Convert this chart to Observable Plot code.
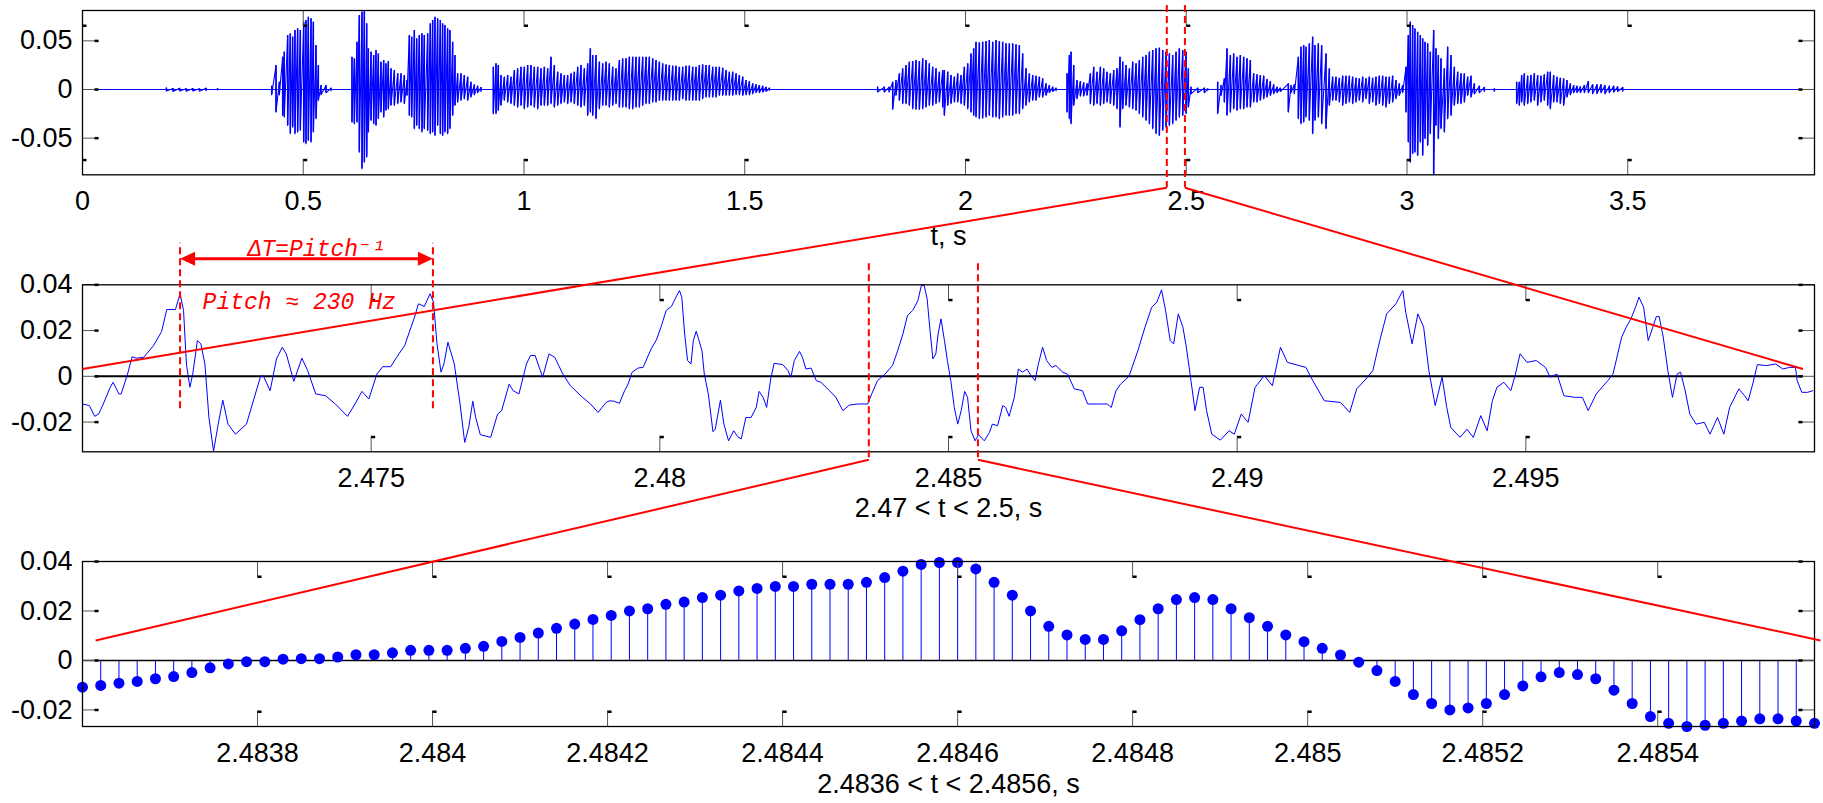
<!DOCTYPE html>
<html><head><meta charset="utf-8">
<script src="https://cdn.jsdelivr.net/npm/d3@7"></script>
<script src="https://cdn.jsdelivr.net/npm/@observablehq/plot@0.6"></script>
<style>
html,body{margin:0;padding:0;background:#fff;overflow:hidden;}
#wrap{position:relative;width:1823px;height:803px;overflow:hidden;background:#fff;}
#wrap svg{position:absolute;left:0;top:0;}
</style></head><body><div id="wrap"></div>
<script>
// ---------------- DATA ----------------
// Panel 1: whole utterance, envelope strokes (t in s, hi/lo in 1e-3)
const env1T = [0.19,0.205,0.22,0.235,0.25,0.265,0.28,0.306,
0.4285,0.4383,0.4458,0.4534,0.457,0.4647,0.4707,0.476,0.4813,0.4873,0.4934,0.501,0.5062,0.5115,0.5176,0.5229,0.5289,0.5342,0.5403,0.5516,0.563,
0.6104,0.6157,0.6217,0.627,0.6331,0.6384,0.6437,0.6474,0.6535,0.6595,0.6648,0.6701,0.6761,0.6822,0.6874,0.6927,0.6988,0.7063,0.7139,0.7214,0.729,0.735,0.7403,0.7456,0.7516,0.7569,0.7629,0.7689,0.7742,0.7818,0.7878,0.7931,0.7984,0.8044,0.8105,0.8157,0.821,0.827,0.8323,0.8384,0.8437,0.8497,0.8573,0.8648,0.8724,0.8799,0.8875,0.895,0.9026,
0.9305,0.9366,0.9418,0.9479,0.9554,0.963,0.9705,0.9781,0.9856,0.9932,1.0007,1.0083,1.0158,1.0234,1.031,1.0385,1.0461,1.0536,1.0612,1.0687,1.0763,1.0838,1.0914,1.0989,1.1065,1.114,1.1216,1.1291,1.1367,1.1442,1.1503,1.1556,1.1631,1.1707,1.1782,1.1858,1.1933,1.2009,1.2084,1.216,1.2235,1.2311,1.2386,1.2462,1.2537,1.2613,1.2688,1.2764,1.2839,1.2915,1.299,1.3066,1.3141,1.3217,1.3292,1.3368,1.3443,1.3519,1.3594,1.367,1.3745,1.3821,1.3896,1.3972,1.4047,1.4123,1.4198,1.4274,1.435,1.4425,1.4501,1.4576,1.4652,1.4727,1.4803,1.4878,1.4954,1.5029,1.5105,1.518,1.5256,1.5331,1.5407,1.5482,1.5558,
1.801,1.816,1.827,1.8351,1.8426,1.8502,1.8577,1.8653,1.8728,1.8804,1.8879,1.8955,1.903,1.9106,1.9181,1.9257,1.9332,1.9408,1.9483,1.9521,1.9597,1.9672,1.9748,1.9823,1.9899,1.9974,2.005,2.0125,2.0185,2.0238,2.0314,2.0389,2.0465,2.054,2.0616,2.0691,2.0767,2.0842,2.0918,2.0993,2.1069,2.1144,2.122,2.1295,2.1371,2.1446,2.1522,2.1597,2.1673,2.1748,2.1824,2.1899,2.1975,2.205,
2.23,2.2353,2.2391,2.2451,2.2526,2.2602,2.2677,2.2753,2.2828,2.2904,2.2979,2.3055,2.313,2.3206,2.3281,2.3357,2.3432,2.35,2.3561,2.3636,2.3712,2.3787,2.3863,2.3938,2.4014,2.4089,2.4165,2.424,2.4316,2.4391,2.4467,2.4542,2.4618,2.4693,2.4769,2.4844,2.492,2.4995,2.5048,2.5108,2.5259,2.541,2.5486,
2.5712,2.5788,2.5863,2.5923,2.5999,2.6074,2.615,2.6225,2.6301,2.6376,2.6452,2.6527,2.6603,2.6678,2.6754,2.6829,2.6905,2.698,2.7056,2.7131,
2.7312,2.7373,2.7448,2.7539,2.7599,2.766,2.7712,2.7788,2.7863,2.7916,2.7992,2.8067,2.8165,2.8241,2.8316,2.8392,2.8467,2.8543,2.8618,2.8694,2.8769,2.8845,2.892,2.8996,2.9071,2.9147,2.9222,2.9298,2.9373,2.9449,2.9524,2.96,2.9675,2.9751,2.9826,2.9902,2.9977,3.003,3.0075,3.0128,3.018,3.0241,3.0302,3.0355,3.0408,3.0468,3.0528,3.0604,3.0657,3.071,3.077,3.0846,3.0921,3.0997,3.1072,3.1148,3.1223,3.1299,3.1374,3.145,3.1525,3.1638,3.1752,3.1979,
3.2484,3.2544,3.2597,3.2657,3.2733,3.2808,3.2884,3.2959,3.3035,3.311,3.3186,3.3246,3.3322,3.3397,3.3473,3.3548,3.3624,3.37,3.3775,3.3851,3.3926,3.4017,3.4107,3.4205,3.4303,3.4394,3.4484,3.4583,3.4681,3.4771,3.4885];
const env1Hi = [1.5,1.0,1.2,0.8,1.0,0.7,1.2,1.0,
3.4,24.7,7.5,33.2,38.4,55.5,57.2,53.8,60.6,62.3,60.6,69.2,70.9,74.3,72.6,69.2,45.2,24.7,4.1,4.1,1.4,
33.2,31.5,48.6,76.0,79.5,81.2,67.5,41.8,38.4,34.9,40.1,36.6,28.1,29.8,26.4,28.8,21.2,19.5,16.1,16.1,14.4,9.2,55.5,53.8,60.6,52.1,55.5,57.2,55.5,57.2,67.5,70.9,74.3,72.6,70.9,67.5,65.8,62.3,60.6,48.6,34.9,16.1,16.1,14.4,12.7,7.5,4.8,3.4,2.1,
22.9,26.4,24.7,14.4,12.7,14.4,12.7,19.5,21.2,22.9,22.9,24.7,24.7,22.9,22.9,21.2,22.9,21.2,33.2,24.7,17.8,16.1,14.4,14.4,16.1,17.8,22.9,24.7,21.2,26.4,41.8,34.9,34.9,28.1,26.4,28.1,26.4,22.9,21.2,29.8,31.5,31.5,33.2,33.2,33.2,33.2,33.2,33.2,33.2,31.5,29.8,28.1,26.4,25.3,24.7,24.0,24.0,22.9,22.9,24.0,24.0,22.9,22.9,24.7,25.3,24.7,24.7,22.9,22.9,22.9,21.9,19.5,17.8,17.8,16.1,14.4,12.7,9.2,8.2,5.8,4.8,4.1,3.4,2.4,1.4,
2.4,2.4,2.4,7.5,9.2,16.1,21.2,24.7,28.1,28.8,29.8,28.8,31.5,29.8,26.4,22.9,21.2,17.8,19.5,19.5,17.8,14.4,12.7,16.1,14.4,22.9,26.4,36.6,41.8,48.6,47.9,48.6,49.3,50.3,48.6,50.3,49.3,48.6,46.9,46.9,46.9,45.9,45.2,36.6,21.2,16.1,14.4,13.7,12.7,11.0,5.8,4.1,2.4,1.4,
16.1,34.9,38.4,24.7,9.2,8.2,6.8,5.8,16.1,22.9,17.8,22.9,21.2,17.8,16.1,19.5,21.2,33.2,28.1,24.7,21.2,28.1,26.4,29.8,33.2,34.9,38.4,40.1,41.8,42.5,40.1,38.4,36.6,34.9,38.4,41.8,40.1,38.4,21.2,2.4,1.4,1.4,0.7,
7.5,4.1,11.0,41.8,34.9,36.6,33.2,34.9,33.2,31.5,29.8,16.1,15.1,14.4,13.7,10.3,8.2,4.8,2.4,1.4,
5.8,4.1,4.8,33.2,43.5,45.2,43.5,46.9,53.8,45.2,46.9,45.2,36.6,21.2,12.7,12.7,11.6,13.7,13.7,13.7,12.7,11.6,11.0,12.7,11.0,12.7,11.6,12.7,13.7,13.7,12.7,12.7,13.7,9.2,5.8,4.1,22.9,55.5,69.2,65.8,62.3,58.9,55.5,52.1,48.6,46.9,38.4,60.6,41.8,34.9,31.5,21.2,43.5,34.9,22.9,17.8,16.1,16.1,12.7,13.7,5.8,3.4,2.1,0.7,
7.5,7.5,14.4,16.1,13.7,14.4,16.1,14.4,13.7,15.1,17.8,17.8,14.4,12.7,11.6,11.0,9.2,5.8,4.1,3.4,2.7,4.1,8.2,4.8,4.8,4.8,4.1,3.4,3.4,2.7,2.1];
const env1Lo = [-1.5,-2.0,-1.5,-1.8,-1.5,-1.7,-1.2,-0.5,
-5.5,-23.3,-5.5,-26.7,-28.4,-37.0,-45.5,-38.7,-45.5,-43.8,-42.0,-54.1,-55.8,-52.4,-54.1,-43.8,-30.1,-11.3,-5.5,-3.4,-1.4,
-33.6,-35.3,-33.6,-64.4,-81.5,-74.7,-69.5,-43.8,-31.8,-35.3,-37.0,-30.1,-23.3,-28.4,-21.6,-19.9,-16.4,-16.4,-14.7,-13.0,-14.7,-6.2,-26.7,-28.4,-40.4,-37.0,-40.4,-43.8,-40.4,-42.1,-45.5,-43.8,-47.3,-37.0,-45.5,-47.3,-43.8,-45.5,-40.4,-26.7,-16.4,-13.0,-11.3,-9.6,-11.3,-7.9,-5.5,-3.4,-2.1,
-25.0,-25.0,-21.6,-16.4,-11.3,-13.0,-14.7,-16.4,-18.2,-16.4,-19.9,-18.2,-16.4,-18.2,-19.9,-16.4,-16.4,-16.4,-14.7,-18.2,-16.4,-14.7,-13.0,-14.7,-13.0,-14.7,-16.4,-18.2,-16.4,-26.7,-23.3,-26.7,-30.1,-19.9,-16.4,-16.4,-18.2,-16.4,-14.7,-18.2,-18.2,-18.2,-19.9,-19.9,-18.2,-18.2,-16.4,-14.7,-14.7,-13.0,-13.0,-11.3,-11.3,-11.3,-11.3,-11.3,-11.3,-11.3,-9.6,-11.3,-11.3,-11.3,-11.3,-11.3,-9.6,-7.9,-7.9,-7.9,-7.9,-6.2,-6.2,-6.2,-6.2,-6.2,-5.5,-5.5,-6.2,-5.5,-5.5,-4.5,-3.4,-3.4,-2.7,-2.1,-1.0,
-2.7,-2.7,-2.7,-20.5,-6.2,-11.3,-14.7,-14.7,-16.4,-19.9,-20.5,-20.5,-19.9,-18.2,-16.4,-16.4,-14.7,-13.0,-18.2,-26.7,-16.4,-14.7,-13.0,-13.0,-14.7,-16.4,-19.9,-23.3,-26.7,-28.4,-30.1,-29.5,-28.4,-26.7,-28.4,-28.4,-30.1,-28.4,-26.7,-26.7,-26.7,-25.0,-25.0,-19.9,-16.4,-13.0,-11.3,-11.3,-7.9,-7.9,-6.2,-3.4,-2.1,-1.4,
-23.3,-30.1,-35.3,-16.4,-9.6,-6.8,-6.8,-6.2,-14.7,-16.4,-14.7,-16.4,-14.7,-13.0,-14.7,-16.4,-19.9,-38.7,-19.9,-16.4,-18.2,-19.9,-21.6,-25.0,-28.4,-31.8,-35.3,-40.4,-45.5,-47.3,-42.1,-38.7,-37.0,-35.3,-31.8,-28.4,-26.7,-25.0,-18.2,-4.5,-3.4,-3.4,-0.7,
-25.0,-6.2,-13.0,-26.7,-23.3,-19.9,-21.6,-19.9,-19.9,-18.2,-18.2,-13.0,-13.0,-11.3,-9.6,-7.9,-6.2,-4.5,-3.4,-2.1,
-23.3,-3.4,-4.5,-30.1,-35.3,-33.6,-28.4,-31.8,-45.5,-31.8,-28.4,-35.3,-40.4,-16.4,-11.3,-11.3,-13.0,-16.4,-14.7,-13.0,-14.7,-13.0,-11.3,-13.0,-9.6,-14.7,-13.0,-16.4,-14.7,-16.4,-18.2,-14.7,-13.0,-9.6,-6.2,-3.4,-23.3,-54.1,-74.7,-66.1,-64.4,-67.8,-54.1,-67.8,-50.7,-57.5,-45.5,-87.6,-37.0,-50.7,-40.4,-43.8,-30.1,-26.7,-16.4,-14.7,-14.7,-13.0,-6.2,-7.9,-4.5,-3.4,-2.1,-2.1,
-14.7,-16.4,-13.0,-16.4,-14.7,-13.0,-11.3,-16.4,-13.0,-11.3,-16.4,-19.9,-13.0,-13.0,-14.7,-16.4,-7.9,-5.5,-3.4,-3.4,-3.4,-3.4,-3.4,-4.5,-4.5,-3.4,-4.5,-3.4,-2.7,-2.1,-2.1];
const x1Domain = [0, 3.923];
const y1Domain = [-0.0877, 0.0812];
const x1Ticks = [0, 0.5, 1, 1.5, 2, 2.5, 3, 3.5];
const x1Labels = ["0", "0.5", "1", "1.5", "2", "2.5", "3", "3.5"];
const y1Ticks = [-0.05, 0, 0.05];
const y1Labels = ["-0.05", "0", "0.05"];
const x1Title = "t, s";
const zoomMarks1 = [2.456, 2.497];

// Panel 2: 2.47 < t < 2.5 (time offset in ms from t2Start, value in 1e-3)
const t2Start = 2.47;
const t2Ms = [0.0,0.12,0.21,0.28,0.36,0.48,0.53,0.63,0.67,0.78,0.86,0.93,1.06,1.23,1.37,1.46,1.61,1.69,1.75,1.80,1.86,1.91,1.99,2.05,2.12,2.19,2.27,2.35,2.43,2.52,2.65,2.84,3.08,3.13,3.25,3.36,3.46,3.53,3.66,3.80,3.90,4.04,4.21,4.38,4.59,4.72,4.84,4.96,5.10,5.20,5.34,5.44,5.58,5.75,5.82,5.92,6.02,6.08,6.14,6.21,6.26,6.33,6.44,6.54,6.62,6.69,6.76,6.81,6.89,7.07,7.19,7.26,7.39,7.46,7.56,7.69,7.76,7.84,7.97,8.08,8.18,8.32,8.45,8.66,8.80,8.93,
9.07,9.13,9.21,9.30,9.39,9.45,9.52,9.62,9.71,9.85,9.94,10.02,10.11,10.20,10.28,10.34,10.38,10.43,10.48,10.54,10.58,10.63,10.67,10.73,10.77,10.84,10.92,10.96,11.05,11.11,11.19,11.28,11.35,11.41,11.49,11.58,11.67,11.72,11.79,11.85,11.92,11.98,12.13,12.22,12.27,12.33,12.42,12.47,12.53,12.62,12.71,12.79,12.94,13.05,13.17,13.28,13.43,13.60,13.67,13.77,13.89,14.03,14.12,14.21,14.29,14.38,14.47,14.53,14.58,14.63,14.68,14.73,14.78,14.82,14.87,14.93,14.98,15.04,15.10,15.16,15.22,15.28,15.33,15.39,15.46,15.52,15.62,15.71,15.76,15.85,15.94,15.99,16.05,16.14,16.21,16.28,16.36,16.43,16.50,16.55,16.63,16.70,16.79,16.86,16.98,17.06,17.18,17.32,17.41,17.58,17.75,17.82,17.90,17.98,
18.08,18.13,18.28,18.40,18.52,18.61,18.69,18.76,18.84,18.90,18.98,19.06,19.12,19.20,19.27,19.35,19.41,19.47,19.56,19.71,19.86,19.95,20.07,20.19,20.31,20.47,20.61,20.75,20.87,21.07,21.19,21.31,21.51,21.79,21.95,22.07,22.23,22.35,22.47,22.59,22.75,22.87,22.92,23.03,23.13,23.23,23.32,23.43,23.55,23.63,23.70,23.86,23.98,24.09,24.22,24.33,24.42,24.50,24.62,24.74,24.82,24.90,25.02,25.18,25.34,25.42,25.54,25.66,25.86,25.98,26.08,26.22,26.42,26.51,26.66,26.74,26.82,26.90,26.96,27.04,27.12,27.20,27.26,27.31,27.38,27.46,27.54,27.62,27.68,27.76,27.84,27.95,28.09,28.19,28.32,28.43,28.53,28.69,28.79,28.85,28.93,29.01,29.17,29.33,29.45,29.57,29.67,29.70,29.78,29.88,29.97];
const v2 = [-12.1,-12.8,-17.5,-16.5,-12.1,-4.8,-2.6,-7.7,-7.7,1.0,8.6,7.9,8.3,13.4,19.6,29.2,29.2,36.1,28.8,5.4,-4.8,1.0,15.6,14.2,5.4,-18.0,-32.8,-20.9,-10.4,-20.9,-25.3,-20.9,-0.4,0.3,-6.3,7.6,12.7,9.8,-2.2,7.9,2.5,-7.7,-8.5,-12.1,-17.5,-12.1,-6.6,-9.9,1.0,4.2,4.2,8.3,13.4,25.8,31.7,30.5,36.1,32.4,14.2,1.8,5.4,14.9,5.4,-12.1,-28.9,-22.3,-10.9,-18.0,-25.5,-26.7,-16.5,-15.0,-3.4,-6.3,-7.7,5.4,9.1,9.1,-0.4,9.8,8.3,1.0,-4.1,-9.2,-12.1,-15.8,
-11.4,-10.7,-10.9,-11.8,-6.3,-3.4,1.8,3.6,3.9,12.0,15.9,21.5,28.8,30.5,34.6,37.5,34.6,18.5,6.9,5.4,15.6,19.7,16.4,11.2,1.0,-7.7,-24.2,-23.1,-10.4,-20.9,-28.2,-23.8,-26.4,-27.4,-18.0,-18.0,-13.6,-6.6,-9.2,-13.6,-1.2,5.7,5.1,2.5,-0.4,6.9,10.9,8.3,3.2,3.6,-1.9,-2.6,-6.3,-9.2,-15.0,-12.6,-12.1,-12.1,-7.7,-1.9,0.7,4.7,11.2,18.5,26.6,28.8,33.1,39.7,39.7,33.9,20.0,7.6,9.8,18.5,25.1,15.6,6.9,-1.9,-13.6,-20.9,-15.0,-6.6,-9.2,-23.8,-28.2,-25.5,-28.2,-24.5,-20.9,-21.6,-12.8,-13.6,-17.5,-9.2,3.2,1.8,3.2,0.3,-1.9,4.7,12.7,6.9,3.9,4.7,1.8,1.0,-5.5,-6.3,-12.1,-12.1,-12.1,-13.6,-6.3,-3.4,
-1.2,0.3,11.2,21.2,30.2,32.4,37.8,28.8,15.6,14.2,27.3,21.5,12.7,-1.9,-15.0,-4.8,-4.8,-15.0,-25.3,-27.9,-23.8,-25.3,-16.5,-20.1,-4.8,0.3,-4.1,12.7,6.1,4.7,3.9,-1.9,-10.7,-11.4,-15.8,-5.5,-1.2,2.5,15.6,27.3,31.7,37.5,28.0,14.2,27.3,21.5,2.5,-12.8,-0.4,-13.6,-22.3,-26.7,-23.1,-26.7,-17.2,-23.8,-10.7,-4.8,-2.6,-6.3,1.0,9.8,6.1,6.9,3.9,-0.4,1.0,-8.5,-9.2,-9.2,-15.0,-7.7,-1.9,1.0,17.1,21.5,25.1,30.2,34.6,30.2,15.6,21.5,26.1,26.1,17.1,2.5,-9.2,1.0,1.8,-6.3,-16.5,-20.9,-20.1,-25.3,-18.0,-25.3,-13.6,-5.5,-8.5,-10.7,-3.4,5.1,4.7,5.4,3.2,3.9,3.9,-1.9,-7.0,-7.0,-6.3];
const x2Domain = [2.47, 2.5];
const y2Domain = [-0.033, 0.04];
const x2Ticks = [2.475, 2.48, 2.485, 2.49, 2.495];
const x2Labels = ["2.475", "2.48", "2.485", "2.49", "2.495"];
const y2Ticks = [-0.02, 0, 0.02, 0.04];
const y2Labels = ["-0.02", "0", "0.02", "0.04"];
const x2Title = "2.47 < t < 2.5, s";
const zoomMarks2 = [2.48362, 2.48551];
const pitchMarks = [2.47169, 2.47607];
const pitchSpan = [-0.0142, 0.0582];
const pitchArrowY = 0.0514;
const pitchDeltaText = "\u0394T=Pitch\u207B\u00B9";
const pitchDeltaPos = [2.474056, 0.0557];
const pitchText = "Pitch \u2248 230 Hz";
const pitchTextPos = [2.47208, 0.0328];

// Panel 3: samples at 48 kHz (value in 1e-3)
const t3Start = 2.4836;
const fs3 = 48000;
const v3 = [-10.8,-10.1,-9.2,-8.5,-7.4,-6.5,-4.9,-3.0,-1.4,-0.5,-0.5,0.5,0.7,0.7,1.4,2.3,2.3,3.1,4.1,4.1,4.1,4.9,5.7,7.7,9.3,11.1,13.0,14.7,16.6,18.2,
20.0,20.9,22.7,23.6,25.4,26.4,28.1,29.1,29.9,29.9,30.8,30.8,30.8,31.6,33.5,36.1,38.8,39.6,39.6,37.0,31.6,26.4,20.0,13.8,10.3,8.5,8.5,12.0,16.5,20.9,24.6,25.4,24.6,
20.9,17.3,13.8,10.3,7.6,4.9,2.2,-0.7,-4.1,-8.5,-13.8,-17.4,-20.0,-19.2,-17.4,-13.8,-10.3,-6.6,-4.9,-5.7,-7.4,-12.0,-17.4,-22.7,-25.4,-26.7,-26.2,-25.4,-24.5,-23.6,-23.6,-24.5,-25.4];
const y3Domain = [-0.0267, 0.04];
const x3Ticks = [2.4838, 2.484, 2.4842, 2.4844, 2.4846, 2.4848, 2.485, 2.4852, 2.4854];
const x3Labels = ["2.4838", "2.484", "2.4842", "2.4844", "2.4846", "2.4848", "2.485", "2.4852", "2.4854"];
const y3Ticks = [-0.02, 0, 0.02, 0.04];
const y3Labels = ["-0.02", "0", "0.02", "0.04"];
const x3Title = "2.4836 < t < 2.4856, s";

// zoom connectors: [from time in upper panel, to time in lower panel], level in lower panel
const linksTop = [[2.456, 2.47], [2.497, 2.4998]];
const linksTopLevel = 0.0032;
const linksBottom = [[2.48362, 2.483615], [2.48551, 2.485586]];
const linksBottomLevel = 0.0081;

// ---------------- LAYOUT ----------------
const W = 1823, H = 803;
const BLUE = "#0000ff", RED = "#ff0000";
const SANS = "'Liberation Sans', Arial, Helvetica, sans-serif";
const MONO = "'Liberation Mono', 'Courier New', 'DejaVu Sans Mono', monospace";
const ML = 82, MR = 9;
const f1 = {top: 10, bottom: 174.3};
const f2 = {top: 284.3, bottom: 451.3};
const f3 = {top: 561, bottom: 726};
const baseStyle = {fontFamily: SANS, fontSize: "27px", background: "transparent", color: "#000"};

const TL = 16;
function lineSym(dx, dy) { return {draw(ctx) { ctx.moveTo(0, 0); ctx.lineTo(dx * TL, dy * TL); }}; }
function stubSym(x, y, w, h) { return {draw(ctx) { ctx.rect(x, y, w, h); }}; }
function insideTicks(xt, yt) {
  const ln = {r: 3, stroke: "#555", strokeWidth: 1, fill: "none"};
  const st = {r: 3, fill: "#000", stroke: "none"};
  return [
    Plot.dot(xt, {x: d => d, frameAnchor: "top", symbol: lineSym(0, 1), ...ln}),
    Plot.dot(xt, {x: d => d, frameAnchor: "top", symbol: stubSym(0, TL - 2, 4, 2.5), ...st}),
    Plot.dot(xt, {x: d => d, frameAnchor: "bottom", symbol: lineSym(0, -1), ...ln}),
    Plot.dot(xt, {x: d => d, frameAnchor: "bottom", symbol: stubSym(0, -TL, 4, 2.5), ...st}),
    Plot.dot(yt, {y: d => d, frameAnchor: "left", symbol: lineSym(1, 0), ...ln}),
    Plot.dot(yt, {y: d => d, frameAnchor: "left", symbol: stubSym(TL - 4, -1.2, 4, 2.5), ...st}),
    Plot.dot(yt, {y: d => d, frameAnchor: "right", symbol: lineSym(-1, 0), ...ln}),
    Plot.dot(yt, {y: d => d, frameAnchor: "right", symbol: stubSym(-TL, -1.2, 4, 2.5), ...st})
  ];
}
const fmt = (ticks, labels) => d => labels[ticks.indexOf(d)];
function axes(xt, xl, yt, yl) {
  return [
    Plot.frame({stroke: "#000", strokeWidth: 1.3}),
    Plot.axisX(xt, {tickSize: 0, tickPadding: 16, tickFormat: fmt(xt, xl), label: null}),
    Plot.axisY(yt, {tickSize: 0, tickPadding: 10, tickFormat: fmt(yt, yl), label: null})
  ];
}

// Panel 1 zigzag from envelope
const wave1 = [];
const strokes1 = env1T.map((t, i) => ({t, hi: env1Hi[i] / 1000, lo: env1Lo[i] / 1000}));
for (let i = 0; i < env1T.length; i++) {
  if (i > 0 && env1T[i] - env1T[i - 1] > 0.02) wave1.push({t: NaN, v: NaN});
  wave1.push({t: env1T[i], v: env1Hi[i] / 1000});
  wave1.push({t: env1T[i], v: env1Lo[i] / 1000});
}
const wave2 = t2Ms.map((m, i) => ({t: t2Start + m / 1000, v: v2[i] / 1000}));
const samples3 = v3.map((v, i) => ({t: t3Start + i / fs3, v: v / 1000}));
const x3Domain = [samples3[0].t, samples3[samples3.length - 1].t];

const p1 = Plot.plot({
  width: W, height: H, marginTop: f1.top, marginBottom: H - f1.bottom, marginLeft: ML, marginRight: MR,
  x: {domain: x1Domain}, y: {domain: y1Domain}, style: baseStyle,
  marks: [
    Plot.ruleY([0], {stroke: BLUE, strokeWidth: 1}),
    Plot.ruleX(strokes1, {x: "t", y1: "lo", y2: "hi", stroke: BLUE, strokeWidth: 1.5}),
    Plot.line(wave1, {x: "t", y: "v", stroke: BLUE, strokeWidth: 1.1}),
    ...insideTicks(x1Ticks, y1Ticks),
    ...axes(x1Ticks, x1Labels, y1Ticks, y1Labels),
    Plot.text([x1Title], {frameAnchor: "bottom", dy: 70, text: d => d}),
    Plot.ruleX(zoomMarks1, {x: d => d, insetTop: -5, insetBottom: -13, stroke: RED, strokeWidth: 2, strokeDasharray: "7,4"})
  ]
});

const headL = {draw(ctx) { ctx.moveTo(0, 0); ctx.lineTo(15, -7); ctx.lineTo(15, 7); ctx.closePath(); }};
const headR = {draw(ctx) { ctx.moveTo(0, 0); ctx.lineTo(-15, -7); ctx.lineTo(-15, 7); ctx.closePath(); }};

const p2 = Plot.plot({
  width: W, height: H, marginTop: f2.top, marginBottom: H - f2.bottom, marginLeft: ML, marginRight: MR,
  x: {domain: x2Domain}, y: {domain: y2Domain}, style: baseStyle,
  marks: [
    Plot.ruleY([0], {stroke: "#000", strokeWidth: 2, insetLeft: 13, insetRight: 11}),
    Plot.line(wave2, {x: "t", y: "v", stroke: BLUE, strokeWidth: 1}),
    ...insideTicks(x2Ticks, y2Ticks),
    ...axes(x2Ticks, x2Labels, y2Ticks, y2Labels),
    Plot.text([x2Title], {frameAnchor: "bottom", dy: 65, text: d => d}),
    Plot.ruleX(zoomMarks2, {x: d => d, insetTop: -21, insetBottom: -8, stroke: RED, strokeWidth: 2, strokeDasharray: "7,4"}),
    Plot.ruleX(pitchMarks, {x: d => d, y1: pitchSpan[0], y2: pitchSpan[1], stroke: RED, strokeWidth: 2, strokeDasharray: "7,4"}),
    Plot.ruleY([pitchArrowY], {x1: pitchMarks[0], x2: pitchMarks[1], stroke: RED, strokeWidth: 3, insetLeft: 8, insetRight: 8}),
    Plot.dot([pitchMarks[0]], {x: d => d, y: pitchArrowY, symbol: headL, r: 5, fill: RED, stroke: "none"}),
    Plot.dot([pitchMarks[1]], {x: d => d, y: pitchArrowY, symbol: headR, r: 5, fill: RED, stroke: "none"}),
    Plot.text([pitchDeltaText], {x: pitchDeltaPos[0], y: pitchDeltaPos[1], text: d => d, fill: RED, fontFamily: MONO, fontStyle: "italic", fontSize: 23}),
    Plot.text([pitchText], {x: pitchTextPos[0], y: pitchTextPos[1], text: d => d, textAnchor: "start", fill: RED, fontFamily: MONO, fontStyle: "italic", fontSize: 23})
  ]
});

const p3 = Plot.plot({
  width: W, height: H, marginTop: f3.top, marginBottom: H - f3.bottom, marginLeft: ML, marginRight: MR,
  x: {domain: x3Domain}, y: {domain: y3Domain}, style: baseStyle,
  marks: [
    Plot.ruleX(samples3, {x: "t", y1: 0, y2: "v", stroke: BLUE, strokeWidth: 1}),
    Plot.ruleY([0], {stroke: "#000", strokeWidth: 1.5}),
    Plot.dot(samples3, {x: "t", y: "v", r: 5.5, fill: BLUE, stroke: "none"}),
    ...insideTicks(x3Ticks, y3Ticks),
    ...axes(x3Ticks, x3Labels, y3Ticks, y3Labels),
    Plot.text([x3Title], {frameAnchor: "bottom", dy: 66, text: d => d})
  ]
});

// connectors through each panel's own scales
const sx1 = p1.scale("x"), sx2 = p2.scale("x"), sy2 = p2.scale("y"), sx3 = p3.scale("x"), sy3 = p3.scale("y");
const links = [
  ...linksTop.map(([a, b]) => ({x1: sx1.apply(a), y1: f1.bottom + 13, x2: sx2.apply(b), y2: sy2.apply(linksTopLevel)})),
  ...linksBottom.map(([a, b]) => ({x1: sx2.apply(a), y1: f2.bottom + 8, x2: sx3.apply(b), y2: sy3.apply(linksBottomLevel)}))
];
const ov = Plot.plot({
  width: W, height: H, margin: 0,
  x: {type: "identity", axis: null}, y: {type: "identity", axis: null},
  style: {background: "transparent"},
  marks: [Plot.link(links, {x1: "x1", y1: "y1", x2: "x2", y2: "y2", stroke: RED, strokeWidth: 2})]
});
ov.style.pointerEvents = "none";

const wrap = document.getElementById("wrap");
[p1, p2, p3, ov].forEach(s => wrap.appendChild(s));
</script></body></html>
